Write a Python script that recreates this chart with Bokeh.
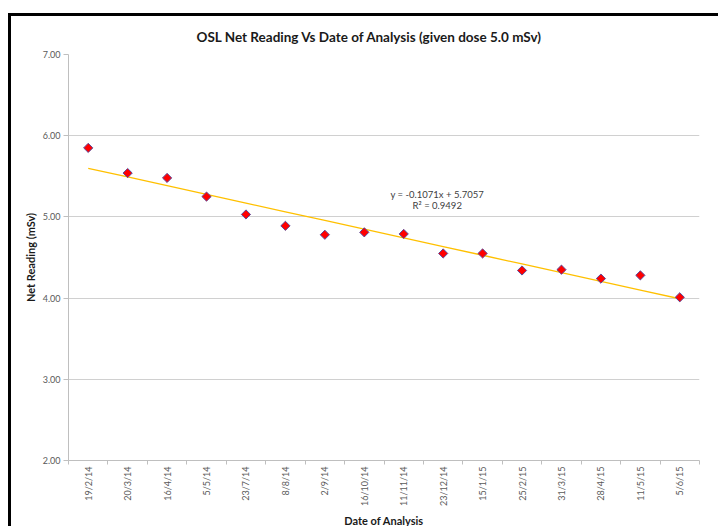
from bokeh.plotting import figure
from bokeh.models import FixedTicker, Label, ColumnDataSource
from bokeh.embed import file_html
from bokeh.resources import INLINE

dates = ["19/2/14", "20/3/14", "16/4/14", "5/5/14", "23/7/14", "8/8/14", "2/9/14",
         "16/10/14", "11/11/14", "23/12/14", "15/1/15", "25/2/15", "31/3/15",
         "28/4/15", "11/5/15", "5/6/15"]
readings = [5.85, 5.54, 5.48, 5.25, 5.03, 4.89, 4.78, 4.81, 4.79, 4.55, 4.55,
            4.34, 4.35, 4.24, 4.28, 4.01]
slope = -0.1071
intercept = 5.7057
r_squared = 0.9492
y_ticks = [2, 3, 4, 5, 6, 7]

idx = list(range(1, len(dates) + 1))
trend = [slope * i + intercept for i in idx]

FONT = "Lato"

p = figure(width=710, height=513, output_backend="svg", toolbar_location=None,
           x_range=(0.5, len(dates) + 0.5), y_range=(2, 7),
           min_border_left=57, min_border_right=22, min_border_top=38,
           min_border_bottom=69)
p.styles = {"margin-left": "8px", "margin-top": "13px",
            "border-left": "3px solid black", "border-top": "3px solid black"}
p.outline_line_color = None
p.background_fill_color = "white"
p.border_fill_color = "white"

p.title.text = "OSL Net Reading Vs Date of Analysis (given dose 5.0 mSv)"
p.title.text_font = FONT
p.title.text_font_size = "13.5px"
p.title.text_font_style = "bold"
p.title.text_color = "#1a1a1a"
p.title.align = "left"
p.title.offset = 128
p.title.standoff = 20

# grid
p.xgrid.grid_line_color = None
p.ygrid.grid_line_color = "#d0d0d0"
p.ygrid.grid_line_width = 1
p.ygrid.ticker = FixedTicker(ticks=y_ticks)

# y axis
p.yaxis.ticker = FixedTicker(ticks=y_ticks)
p.yaxis.major_label_overrides = {t: f"{t:.2f}" for t in y_ticks}
p.yaxis.axis_line_color = "#bfbfbf"
p.yaxis.major_tick_line_color = "#bfbfbf"
p.yaxis.major_tick_out = 5
p.yaxis.major_tick_in = 0
p.yaxis.minor_tick_line_color = None
p.yaxis.major_label_text_font = FONT
p.yaxis.major_label_text_font_size = "9px"
p.yaxis.major_label_text_color = "#595959"
p.yaxis.major_label_standoff = 3
p.yaxis.axis_label = "Net Reading (mSv)"
p.yaxis.axis_label_text_font = FONT
p.yaxis.axis_label_text_font_size = "11px"
p.yaxis.axis_label_text_font_style = "bold"
p.yaxis.axis_label_text_color = "#1a1a1a"
p.yaxis.axis_label_standoff = 3

# x axis: labels at category centres, ticks at boundaries
boundaries = [i + 0.5 for i in range(0, len(dates) + 1)]
p.xaxis.ticker = FixedTicker(ticks=idx, minor_ticks=boundaries)
p.xaxis.major_label_overrides = {i: d for i, d in zip(idx, dates)}
p.xaxis.major_label_orientation = 1.5708
p.xaxis.axis_line_color = "#bfbfbf"
p.xaxis.major_tick_line_color = None
p.xaxis.major_tick_out = 4
p.xaxis.major_tick_in = 0
p.xaxis.minor_tick_line_color = "#bfbfbf"
p.xaxis.minor_tick_out = 4
p.xaxis.minor_tick_in = 0
p.xaxis.major_label_text_font = FONT
p.xaxis.major_label_text_font_size = "9px"
p.xaxis.major_label_text_color = "#595959"
p.xaxis.major_label_standoff = 2
p.xaxis.axis_label = "Date of Analysis"
p.xaxis.axis_label_text_font = FONT
p.xaxis.axis_label_text_font_size = "11px"
p.xaxis.axis_label_text_font_style = "bold"
p.xaxis.axis_label_text_color = "#1a1a1a"
p.xaxis.axis_label_standoff = 5

src = ColumnDataSource(dict(x=idx, y=readings, t=trend))
p.line("x", "t", source=src, line_color="#FFC000", line_width=1.3)
p.scatter("x", "y", source=src, marker="square", size=6.5, angle=0.7854,
          fill_color="#FF0000", line_color="#5B4A9B", line_width=1)

eq = Label(x=9.85, y=5.28, text=f"y = {slope}x + {intercept}",
           text_font=FONT, text_font_size="9.5px", text_color="#404040",
           text_align="center", text_baseline="middle")
r2 = Label(x=9.85, y=5.135, text=f"R² = {r_squared}",
           text_font=FONT, text_font_size="9.5px", text_color="#404040",
           text_align="center", text_baseline="middle")
p.add_layout(eq)
p.add_layout(r2)

open("out.html", "w").write(file_html(p, INLINE))
